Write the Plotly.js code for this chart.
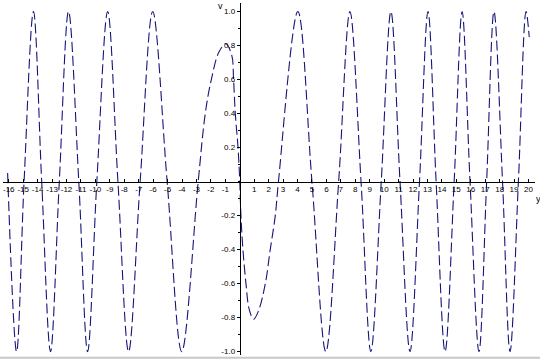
<!DOCTYPE html>
<html>
<head>
<meta charset="utf-8">
<script src="https://cdn.plot.ly/plotly-3.0.1.min.js"></script>
<style>html,body{margin:0;padding:0;background:#fff;}#chart{width:540px;height:359px;}</style>
</head>
<body>
<div id="chart"></div>
<script>
// Curve knots (x values on the horizontal axis, curve value v)
const curveX = [
  -16.08, -15.46, -14.94, -14.29, -13.72, -13.11, -12.50, -11.86, -11.15, -10.54,
  -9.90, -9.15, -8.44, -7.70, -6.90, -6.03, -5.03, -4.02, -2.88, -2.39,
  -1.97, -1.45, -0.97, -0.55, -0.43, -0.31, -0.12, 0.00, 0.08, 0.22,
  0.43, 0.65, 0.96, 1.30, 1.77, 2.11, 2.46, 2.68, 4.02, 5.00,
  5.96, 6.85, 7.63, 8.40, 9.08, 9.80, 10.47, 11.10, 11.79, 12.45,
  13.04, 13.60, 14.22, 14.85, 15.40, 15.95, 16.57, 17.10, 17.61, 18.20,
  18.72, 19.30, 19.83, 20.05
];
const curveY = [
  0.05, -1.0, 0.0, 1.0, 0.0, -1.0, 0.0, 1.0, 0.0, -1.0,
  0.0, 1.0, 0.0, -1.0, 0.0, 1.0, 0.0, -1.0, 0.0, 0.40,
  0.60, 0.76, 0.81, 0.74, 0.60, 0.40, 0.20, 0.0, -0.20, -0.40,
  -0.60, -0.75, -0.81, -0.76, -0.60, -0.40, -0.20, 0.0, 1.0, 0.0,
  -1.0, 0.0, 1.0, 0.0, -1.0, 0.0, 1.0, 0.0, -1.0, 0.0,
  1.0, 0.0, -1.0, 0.0, 1.0, 0.0, -1.0, 0.0, 1.0, 0.0,
  -1.0, 0.0, 1.0, 0.85
];
const xTickVals = [-16,-15,-14,-13,-12,-11,-10,-9,-8,-7,-6,-5,-4,-3,-2,-1,1,2,3,4,5,6,7,8,9,10,11,12,13,14,15,16,17,18,19,20];
const yTickVals = [-1.0,-0.8,-0.6,-0.4,-0.2,0.2,0.4,0.6,0.8,1.0];
const xTitle = 'y';
const yTitle = 'v';

const xRange = [-16.4, 20.45];
const yRange = [-1.02, 1.05];
const xAxisPos = (0 - yRange[0]) / (yRange[1] - yRange[0]);
const yAxisPos = (0 - xRange[0]) / (xRange[1] - xRange[0]);

const fontFam = 'Liberation Sans Narrow, Liberation Sans, Arial, sans-serif';

const trace = {
  x: curveX, y: curveY, type: 'scatter', mode: 'lines',
  line: {color: '#14147a', width: 1.1, dash: '10px,4px', shape: 'spline', smoothing: 1.0},
  hoverinfo: 'skip'
};

const layout = {
  width: 540, height: 359,
  margin: {l: 3, r: 5, t: 3, b: 4},
  paper_bgcolor: '#ffffff', plot_bgcolor: '#ffffff',
  showlegend: false,
  font: {family: fontFam, size: 8, color: '#000'},
  xaxis: {
    range: xRange, anchor: 'free', position: xAxisPos,
    showgrid: false, zeroline: false, showline: true, linecolor: '#000', linewidth: 1,
    tickvals: xTickVals, ticktext: xTickVals.map(String),
    tickangle: 0, automargin: false,
    ticks: 'inside', ticklen: 3, tickcolor: '#000', tickwidth: 1,
    tickfont: {family: fontFam, size: 8, color: '#000'},
    ticklabelstandoff: 0
  },
  yaxis: {
    range: yRange, anchor: 'free', position: yAxisPos,
    showgrid: false, zeroline: false, showline: true, linecolor: '#000', linewidth: 1,
    tickvals: yTickVals, ticktext: yTickVals.map(v => v.toFixed(1)),
    automargin: false,
    ticks: 'outside', ticklen: 3, tickcolor: '#000', tickwidth: 1,
    tickfont: {family: fontFam, size: 8, color: '#000'},
    minor: {dtick: 0.1, ticks: 'outside', ticklen: 2, tickcolor: '#000'}
  },
  annotations: [
    {text: yTitle, xref: 'x', yref: 'y', x: -1.35, y: 1.03, showarrow: false,
     font: {family: fontFam, size: 9, color: '#000'}},
    {text: xTitle, xref: 'x', yref: 'y', x: 20.38, y: -0.1, xanchor: 'left', showarrow: false,
     font: {family: fontFam, size: 9, color: '#000'}}
  ],
  shapes: [
    {type: 'line', xref: 'paper', yref: 'paper', x0: -0.01, x1: 1.02, y0: -0.008, y1: -0.008,
     line: {color: '#c8c8c8', width: 2}}
  ]
};

Plotly.newPlot('chart', [trace], layout, {displayModeBar: false, staticPlot: true});
</script>
</body>
</html>
